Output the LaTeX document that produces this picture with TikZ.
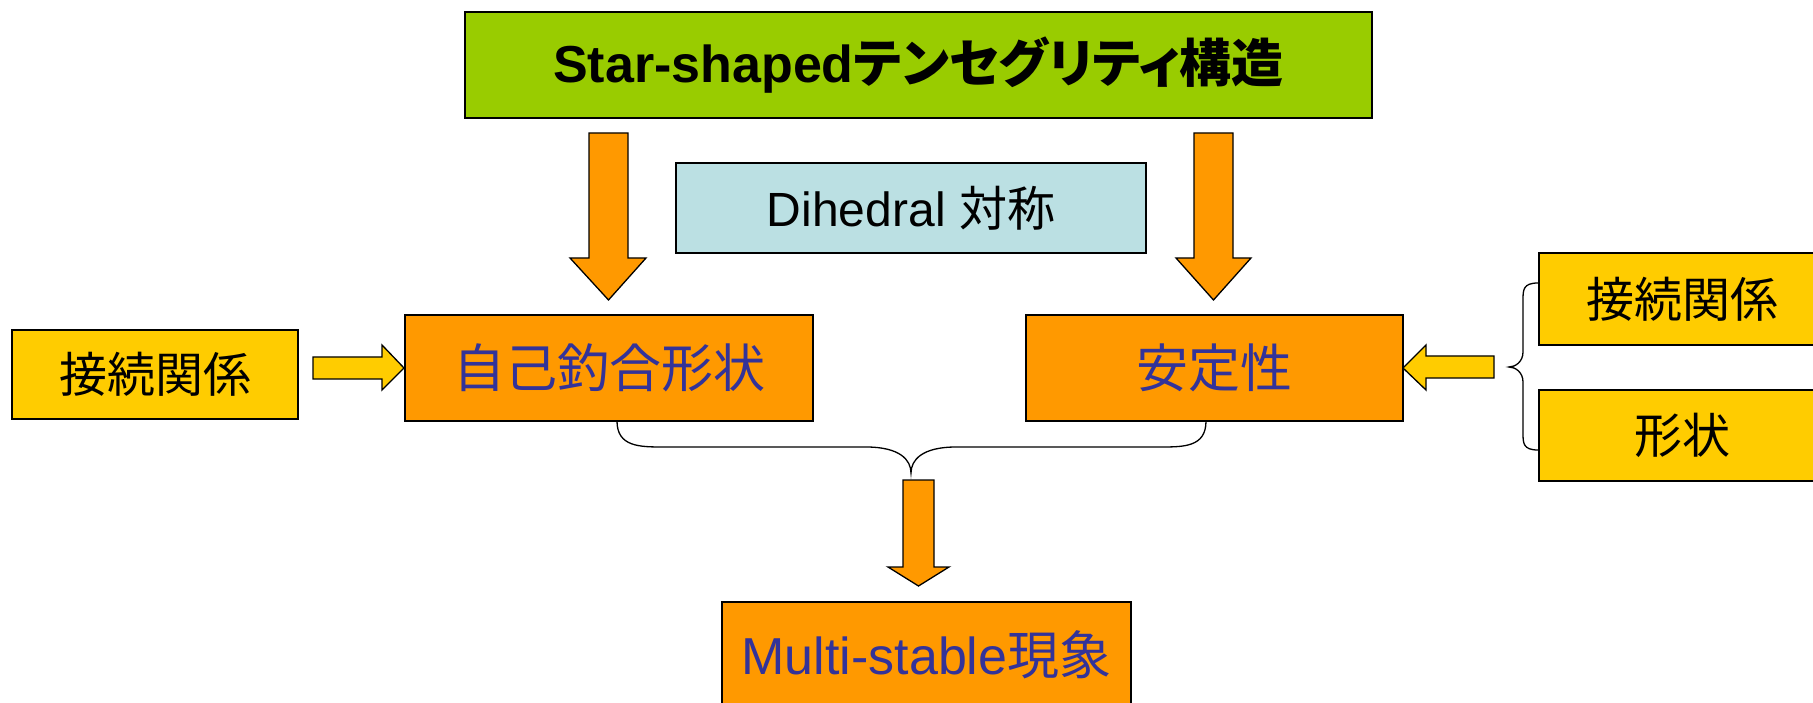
\documentclass[tikz,border=0pt]{standalone}
\usepackage{fontspec}
\setmainfont{Liberation Sans}
\newfontfamily\jp{Noto Sans CJK JP}
\newfontfamily\jpp[RawFeature=+palt]{Noto Sans CJK JP}
\definecolor{cgreen}{HTML}{99CC00}
\definecolor{cblue}{HTML}{BBE0E3}
\definecolor{corange}{HTML}{FF9900}
\definecolor{cyellow}{HTML}{FFCC00}
\definecolor{ctext}{HTML}{333399}
\begin{document}
\begin{tikzpicture}[x=1pt,y=-1pt,
  box/.style={draw=black, line width=1.8pt, rectangle, inner sep=0pt, align=center},
  orangebox/.style={box, fill=corange, text=ctext, font=\fontsize{52}{60}\selectfont},
  yellowbox/.style={box, fill=cyellow, text=black, font=\fontsize{48}{56}\selectfont},
  blockarrow/.style={draw=black, line width=1.3pt, line join=miter},
  bracepath/.style={draw=black, line width=1.3pt}
]
\clip (0,0) rectangle (1813,703);
\useasboundingbox (0,0) rectangle (1813,703);

% boxes
\node[box, fill=cgreen, minimum width=907pt, minimum height=106pt,
      font=\fontsize{52}{60}\selectfont\bfseries] (title) at (918.5,65)
      {Star-shaped{\jpp\bfseries テンセグリティ構造}};
\node[box, fill=cblue, minimum width=470pt, minimum height=90pt,
      font=\fontsize{48}{56}\selectfont] (dihedral) at (911,208)
      {Dihedral {\jp 対称}};
\node[orangebox, minimum width=408pt, minimum height=106pt] (self) at (609,368)
      {\jp 自己釣合形状};
\node[orangebox, minimum width=377pt, minimum height=106pt] (stab) at (1214.5,368)
      {\jp 安定性};
\node[yellowbox, minimum width=286pt, minimum height=89pt] (lconn) at (155,374.5)
      {\jp 接続関係};
\node[yellowbox, minimum width=286pt, minimum height=92pt] (rconn) at (1682,299)
      {\jp 接続関係};
\node[yellowbox, minimum width=286pt, minimum height=91pt] (shape) at (1682,435.5)
      {\jp 形状};
\node[orangebox, minimum width=409pt, minimum height=106pt] (multi) at (926.5,655)
      {Multi-stable{\jp 現象}};

% block arrows
\draw[blockarrow, fill=corange] (589,133) -- (628,133) -- (628,258) -- (646,258)
      -- (608.5,300) -- (570,258) -- (589,258) -- cycle;
\draw[blockarrow, fill=corange] (1194,133) -- (1233,133) -- (1233,258) -- (1251,258)
      -- (1213.5,300) -- (1176,258) -- (1194,258) -- cycle;
\draw[blockarrow, fill=corange] (903,480) -- (934,480) -- (934,567) -- (949,567)
      -- (918.5,586) -- (888,567) -- (903,567) -- cycle;
\draw[blockarrow, fill=cyellow] (313,357) -- (382,357) -- (382,345) -- (404,368)
      -- (382,390) -- (382,379) -- (313,379) -- cycle;
\draw[blockarrow, fill=cyellow] (1494,356) -- (1426,356) -- (1426,345) -- (1403,368)
      -- (1426,390) -- (1426,378) -- (1494,378) -- cycle;

% braces
\coordinate (bl) at (617,421);
\coordinate (br) at (1206,421);
\coordinate (btip) at (911,473);
\draw[bracepath] (bl) .. controls (617,447) and (640,447) .. (664,447) -- (866,447)
      .. controls (900,447) and (911,460) .. (btip)
      .. controls (911,460) and (922,447) .. (956,447) -- (1160,447)
      .. controls (1184,447) and (1206,447) .. (br);
\coordinate (rt) at (1538,283);
\coordinate (rb) at (1538,450);
\coordinate (rtip) at (1509,367);
\draw[bracepath] (rt) .. controls (1523,283) and (1523,290) .. (1523,300) -- (1523,352)
      .. controls (1523,362) and (1515,367) .. (rtip)
      .. controls (1515,367) and (1523,372) .. (1523,382) -- (1523,433)
      .. controls (1523,443) and (1523,450) .. (rb);
\end{tikzpicture}
\end{document}
